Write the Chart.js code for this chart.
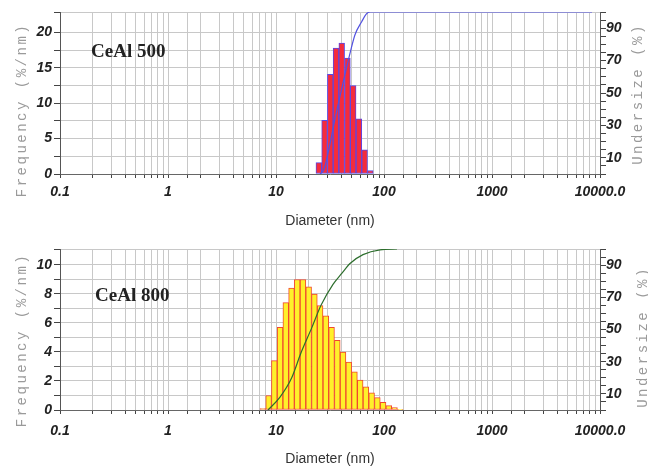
<!DOCTYPE html>
<html>
<head>
<meta charset="utf-8">
<script src="https://cdn.jsdelivr.net/npm/chart.js@4.4.0/dist/chart.umd.min.js"></script>
<style>
  html, body { margin: 0; padding: 0; background: #fff; }
  #wrap { position: relative; width: 648px; height: 468px; overflow: hidden; }
  canvas { position: absolute; left: 0; }
  #top { top: 0; }
  #bottom { top: 234px; }
</style>
</head>
<body>
<div id="wrap">
  <canvas id="top" width="648" height="234"></canvas>
  <canvas id="bottom" width="648" height="234"></canvas>
</div>
<script>
// diameter axis (nm), decade labels
const xTickValues = [0.1, 1, 10, 100, 1000, 10000];
const xTickLabels = ["0.1", "1", "10", "100", "1000", "10000.0"];

// CeAl 500 - bin centres (nm) and frequency (%/nm)
const diam500 = [24.92, 28.16, 31.81, 35.94, 40.6, 45.87, 51.83, 58.55, 66.15, 74.73];
const freq500 = [1.6, 7.6, 14.1, 17.8, 18.5, 16.4, 12.5, 7.8, 3.4, 0.5];
// CeAl 500 - undersize curve (%)
const underDiam500 = [25.55, 27.83, 35.94, 47.43, 53.89, 62.14, 68.13, 74.2, 8431];
const under500 = [0, 3, 37, 72, 86, 94, 98.5, 100, 100];

// CeAl 800 - bin centres (nm) and frequency (%/nm)
const diam800 = [7.56, 8.54, 9.65, 10.9, 12.32, 13.92, 15.72, 17.77, 20.07, 22.68,
  25.62, 28.95, 32.71, 36.95, 41.75, 47.17, 53.29, 60.2, 68.01, 76.84,
  86.81, 98.06, 110.8, 125.2, 141.4];
const freq800 = [0.1, 1.0, 3.4, 5.7, 7.4, 8.4, 9.0, 9.0, 8.5, 8.0,
  7.2, 6.5, 5.7, 4.8, 4.0, 3.3, 2.64, 2.07, 1.6, 1.19,
  0.85, 0.53, 0.3, 0.16, 0.05];
// CeAl 800 - undersize curve (%)
const underDiam800 = [8.43, 10.89, 13.98, 17.04, 21.41, 26.11, 33.71, 40.84, 48.44, 63.92, 91.83, 131.9];
const under800 = [0, 8, 20, 35.5, 51, 65, 78, 85, 91, 96.5, 99.5, 100];

const tickFont = { family: "'Liberation Sans', Arial, sans-serif", size: 14, weight: "bold", style: "italic" };
const gridColor = "#c8c8c8";
const darkColor = "#444";

// extra texts: panel name and the two rotated axis titles
const panelText = {
  id: "panelText",
  afterDraw(chart, args, opts) {
    const ctx = chart.ctx;
    ctx.save();
    ctx.fillStyle = "#222";
    ctx.font = "bold 19px 'Liberation Serif', 'Times New Roman', serif";
    ctx.textAlign = "left";
    ctx.textBaseline = "alphabetic";
    ctx.fillText(opts.label, opts.labelX, opts.labelY);

    ctx.fillStyle = "#9a9a9a";
    ctx.font = "14px 'Liberation Mono', 'DejaVu Sans Mono', monospace";
    ctx.letterSpacing = "2.5px";
    ctx.textAlign = "center";
    ctx.textBaseline = "middle";
    ctx.save();
    ctx.translate(opts.leftX, opts.leftY);
    ctx.rotate(-Math.PI / 2);
    ctx.fillText("Frequency (%/nm)", 0, 0);
    ctx.restore();
    ctx.save();
    ctx.translate(opts.rightX, opts.rightY);
    ctx.rotate(-Math.PI / 2);
    ctx.fillText("Undersize (%)", 0, 0);
    ctx.restore();
    ctx.restore();
  }
};

function toPoints(xs, ys) {
  return xs.map((x, i) => ({ x: x, y: ys[i] }));
}

function buildPanel(canvasId, p) {
  const ctx = document.getElementById(canvasId).getContext("2d");
  return new Chart(ctx, {
    type: "bar",
    data: {
      datasets: [
        {
          type: "line",
          data: toPoints(p.curveDiam, p.curve),
          yAxisID: "y2",
          borderColor: p.lineColor,
          borderWidth: 1.2,
          pointRadius: 0,
          cubicInterpolationMode: "monotone",
          order: 1,
        },
        {
          type: "bar",
          data: toPoints(p.diam, p.freq),
          yAxisID: "y",
          backgroundColor: p.barColor,
          borderColor: p.edgeColor,
          borderWidth: 1,
          borderSkipped: false,
          barThickness: "flex",
          barPercentage: 1,
          categoryPercentage: 1,
          order: 2,
        },
      ],
    },
    options: {
      responsive: false,
      animation: false,
      layout: { padding: { top: p.padTop, left: 0, right: 0, bottom: 0 } },
      plugins: {
        legend: { display: false },
        tooltip: { enabled: false },
        panelText: p.texts,
      },
      scales: {
        x: {
          type: "logarithmic",
          min: 0.1,
          max: 10000,
          offset: false,
          grid: { color: gridColor, tickColor: darkColor, tickLength: 4, offset: false },
          border: { color: "#666" },
          ticks: {
            autoSkip: false,
            maxRotation: 0,
            padding: p.xTickPad,
            color: "#222",
            font: tickFont,
            callback: (value) => {
              const i = xTickValues.findIndex((v) => Math.abs(v - value) < v * 1e-6);
              return i >= 0 ? xTickLabels[i] : "";
            },
          },
          title: {
            display: true,
            text: "Diameter (nm)",
            color: "#333",
            font: { family: "'Liberation Sans', Arial, sans-serif", size: 14 },
            padding: { top: 0, bottom: p.titlePad },
          },
          afterFit: (scale) => { scale.height = p.xHeight; },
        },
        y: {
          position: "left",
          min: 0,
          max: p.yMax,
          grid: { color: gridColor, tickColor: darkColor, tickLength: 6 },
          border: { color: "#555" },
          ticks: {
            autoSkip: false,
            stepSize: p.yStep,
            padding: 2,
            color: "#222",
            font: tickFont,
            callback: (v) => (Math.abs(v % p.yLabelEvery) < 1e-6 ? String(v) : ""),
          },
          afterFit: (scale) => { scale.width = 60; },
        },
        y2: {
          position: "right",
          min: 0,
          max: 100,
          grid: { drawOnChartArea: false, tickColor: darkColor, tickLength: 6 },
          border: { color: "#555" },
          ticks: {
            autoSkip: false,
            stepSize: 5,
            padding: 0,
            color: "#222",
            font: tickFont,
            callback: (v) => (v % 20 === 10 ? String(v) : ""),
          },
          afterFit: (scale) => { scale.width = 48; },
        },
      },
    },
    plugins: [panelText],
  });
}

buildPanel("top", {
  diam: diam500, freq: freq500, curveDiam: underDiam500, curve: under500,
  barColor: "#f42c3c", edgeColor: "#5a48e6", lineColor: "#5252e0",
  yMax: 22.9, yStep: 2.5, yLabelEvery: 5,
  padTop: 12, xHeight: 60, xTickPad: 6, titlePad: 4,
  texts: { label: "CeAl 500", labelX: 91, labelY: 57, leftX: 22, leftY: 110, rightX: 638, rightY: 94 },
});

buildPanel("bottom", {
  diam: diam800, freq: freq800, curveDiam: underDiam800, curve: under800,
  barColor: "#fff02a", edgeColor: "#f0482e", lineColor: "#2d6e2d",
  yMax: 11.1, yStep: 1, yLabelEvery: 2,
  padTop: 15, xHeight: 58, xTickPad: 9, titlePad: 0,
  texts: { label: "CeAl 800", labelX: 95, labelY: 67, leftX: 22, leftY: 106, rightX: 643, rightY: 103 },
});
</script>
</body>
</html>
